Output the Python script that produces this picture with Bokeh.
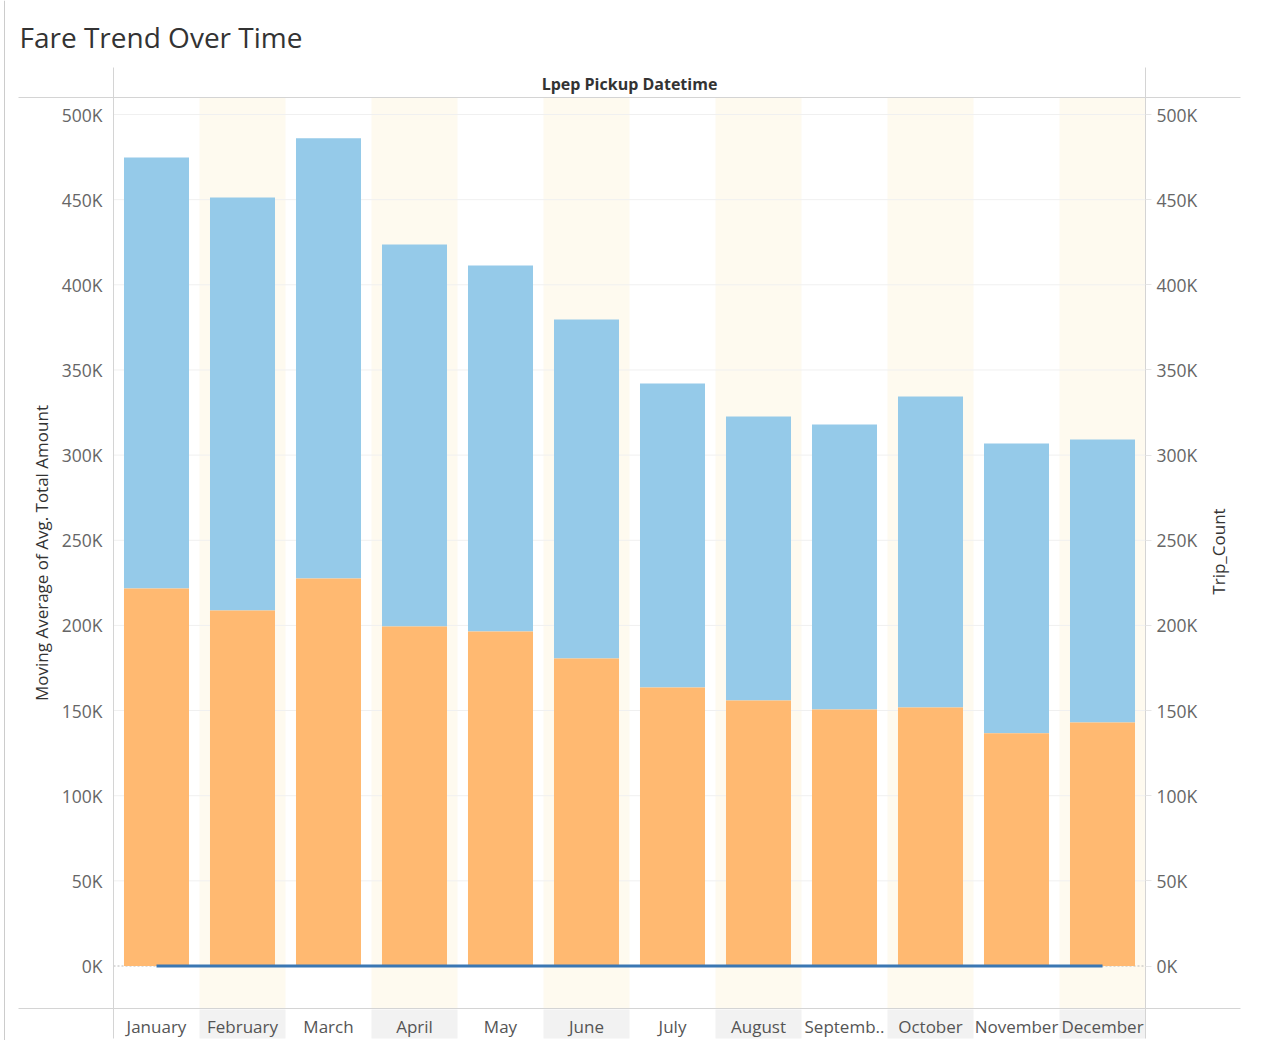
import numpy as np
from bokeh.plotting import figure
from bokeh.models import LinearAxis, FixedTicker, CustomJSTickFormatter, Label, Range1d
from bokeh.embed import file_html
from bokeh.resources import INLINE

# data
months = ["January", "February", "March", "April", "May", "June",
          "July", "August", "September", "October", "November", "December"]
month_labels = ["January", "February", "March", "April", "May", "June",
                "July", "August", "Septemb..", "October", "November", "December"]
trip_count_total = [474800, 451300, 486000, 423700, 411400, 379600,
                    342100, 322700, 318000, 334400, 306800, 309200]
trip_count_lower = [221700, 208800, 227500, 199400, 196400, 180600,
                    163600, 155900, 150600, 151800, 136600, 143000]
moving_avg_total_amount = [21.4, 21.9, 22.3, 22.6, 22.8, 22.9,
                           22.7, 22.5, 22.6, 22.4, 22.3, 22.2]
y_ticks = [0, 50000, 100000, 150000, 200000, 250000,
           300000, 350000, 400000, 450000, 500000]

FONT = "Open Sans"
LINE = "#d4d4d4"

# page pixel -> data helpers (the frame fills the whole figure)
X0, BAND = 113, 86          # left edge of pane, width of one month column
Y0, YPX = 965.5, 851.5 / 500000


def px(x):
    return (x - X0) / BAND


def py(y):
    return (Y0 - y) / YPX


W, H = 1264, 1040
p = figure(width=W, height=H, output_backend="svg", toolbar_location=None,
           x_range=Range1d(px(0), px(W)), y_range=Range1d(py(H), py(0)),
           x_axis_type=None, y_axis_type=None, min_border=0)
p.outline_line_color = None

n = len(months)
idx = np.arange(n)
alt = idx[idx % 2 == 1]

# alternating column shading and label cells
p.quad(left=alt, right=alt + 1, bottom=py(1008), top=py(97),
       fill_color="#fefaef", line_color=None)
p.quad(left=alt, right=alt + 1, bottom=py(1038), top=py(1009),
       fill_color="#f2f2f2", line_color=None)

# grid lines
grid = [t for t in y_ticks if t != 0]
p.segment(x0=0, x1=n, y0=grid, y1=grid, line_color="#f0f0f0", line_width=1)
p.segment(x0=0, x1=n, y0=0, y1=0, line_color="#b8b8b8", line_width=1, line_dash="2 2")

# pane borders
p.segment(x0=px(18), x1=px(1240), y0=[py(97), py(1008)], y1=[py(97), py(1008)],
          line_color=LINE, line_width=1)
p.segment(x0=[0, n], x1=[0, n], y0=py(67), y1=py(1038), line_color=LINE, line_width=1)
p.segment(x0=px(4), x1=px(4), y0=py(0), y1=py(H), line_color="#cccccc", line_width=1)

# bars
centers = idx + 0.5
p.vbar(x=centers, width=0.756, bottom=trip_count_lower, top=trip_count_total,
       fill_color="#95cae9", line_color=None)
p.vbar(x=centers, width=0.756, bottom=0, top=trip_count_lower,
       fill_color="#ffb971", line_color=None)

# moving average line
p.line(centers, moving_avg_total_amount, line_color="#3a77b3", line_width=3)

fmt = CustomJSTickFormatter(code="return (tick/1000).toFixed(0) + 'K'")

left = LinearAxis(fixed_location=0, bounds=(py(1008), py(97)),
                  ticker=FixedTicker(ticks=y_ticks), formatter=fmt,
                  axis_label="Moving Average of Avg. Total Amount")
right = LinearAxis(fixed_location=n, bounds=(py(1008), py(97)),
                   ticker=FixedTicker(ticks=y_ticks), formatter=fmt)
for ax in (left, right):
    ax.axis_line_color = None
    ax.minor_tick_line_color = None
    ax.major_label_text_font = FONT
    ax.major_label_text_font_size = "17.5px"
    ax.major_label_text_color = "#666666"
left.major_tick_line_color = None
left.major_tick_in = 0
left.major_tick_out = 0
left.major_label_standoff = 11
left.axis_label_standoff = 6
left.axis_label_text_font = FONT
left.axis_label_text_font_size = "17px"
left.axis_label_text_font_style = "normal"
left.axis_label_text_color = "#333333"
right.major_tick_line_color = "#e6e6e6"
right.major_tick_in = 0
right.major_tick_out = 6
right.major_label_standoff = 5
p.add_layout(left, "left")
p.add_layout(right, "right")

bottom = LinearAxis(fixed_location=py(1008), ticker=FixedTicker(ticks=list(centers)),
                    formatter=CustomJSTickFormatter(args=dict(labels=month_labels),
                                                    code="return labels[Math.floor(tick)]"))
bottom.axis_line_color = None
bottom.major_tick_line_color = None
bottom.minor_tick_line_color = None
bottom.major_tick_in = 0
bottom.major_tick_out = 0
bottom.major_label_standoff = 6
bottom.major_label_text_font = FONT
bottom.major_label_text_font_size = "17px"
bottom.major_label_text_color = "#555555"
p.add_layout(bottom, "below")

p.add_layout(Label(x=px(1218), y=py(551), text="Trip_Count", angle=np.pi / 2,
                   text_align="center", text_baseline="middle", text_font=FONT,
                   text_font_size="17px", text_color="#333333"))
p.add_layout(Label(x=n / 2, y=py(83), text="Lpep Pickup Datetime",
                   text_align="center", text_baseline="middle", text_font=FONT,
                   text_font_size="16px", text_font_style="bold", text_color="#333333"))
p.add_layout(Label(x=px(19), y=py(36), text="Fare Trend Over Time",
                   text_align="left", text_baseline="middle", text_font=FONT,
                   text_font_size="28px", text_color="#333333"))

open("out.html", "w").write(file_html(p, INLINE))
